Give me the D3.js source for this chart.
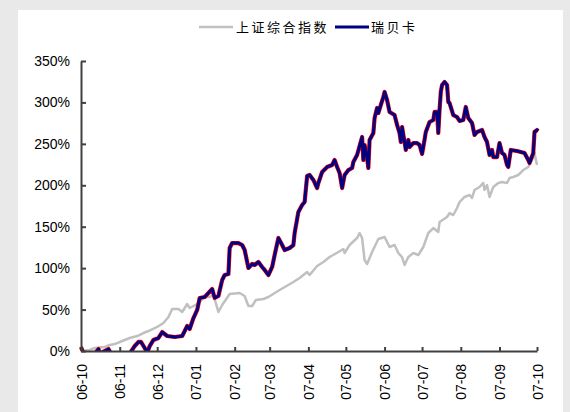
<!DOCTYPE html>
<html><head><meta charset="utf-8">
<script src="https://cdn.jsdelivr.net/npm/d3@7"></script>
<style>
html,body{margin:0;padding:0;background:#e9e9e9;}
svg{display:block;}
</style></head>
<body>
<svg id="chart" width="570" height="412"></svg>
<script>
// ---- data ----
const seriesNames = ["上证综合指数", "瑞贝卡"];
const xTickLabels = ["06-10","06-11","06-12","07-01","07-02","07-03","07-04","07-05","07-06","07-07","07-08","07-09","07-10"];
const yTickValues = [0,50,100,150,200,250,300,350];

const sseDates = ["2006-10-01","2006-10-08","2006-10-12","2006-10-20","2006-10-24","2006-10-28","2006-11-03","2006-11-09","2006-11-15","2006-11-20","2006-11-24","2006-12-01","2006-12-06","2006-12-10","2006-12-13","2006-12-18","2006-12-21","2006-12-25","2006-12-27","2006-12-30","2007-01-02","2007-01-08","2007-01-12","2007-01-15","2007-01-19","2007-01-22","2007-01-28","2007-02-05","2007-02-09","2007-02-12","2007-02-15","2007-02-18","2007-02-24","2007-02-28","2007-03-09","2007-03-20","2007-03-25","2007-03-31","2007-04-02","2007-04-08","2007-04-13","2007-04-18","2007-04-25","2007-04-29","2007-04-30","2007-05-04","2007-05-10","2007-05-12","2007-05-14","2007-05-16","2007-05-18","2007-05-22","2007-05-27","2007-06-01","2007-06-05","2007-06-09","2007-06-12","2007-06-15","2007-06-17","2007-06-20","2007-06-24","2007-06-28","2007-07-02","2007-07-06","2007-07-10","2007-07-14","2007-07-15","2007-07-21","2007-07-23","2007-07-26","2007-07-29","2007-07-31","2007-08-04","2007-08-08","2007-08-10","2007-08-12","2007-08-16","2007-08-19","2007-08-20","2007-08-22","2007-08-24","2007-08-27","2007-08-31","2007-09-03","2007-09-07","2007-09-09","2007-09-12","2007-09-16","2007-09-20","2007-09-24","2007-09-27","2007-09-29","2007-10-01"];
const sseValues = [0,1.2,3.6,4.8,7.2,8.4,12.1,15.7,18.1,21.7,24.1,29.0,33.8,41.0,50.7,50.7,47.1,56.7,51.9,54.3,56.7,65.2,65.2,67.6,47.1,55.5,68.8,70.0,66.4,54.3,54.3,61.6,62.8,65.2,73.6,83.3,88.1,95.3,91.7,102.6,107.4,113.4,119.5,123.1,118.3,127.9,136.4,142.4,136.4,109.8,105.0,119.5,135.2,137.6,125.5,127.9,118.3,113.4,103.8,113.4,118.3,115.9,125.5,142.4,148.4,143.6,155.7,161.7,166.5,164.1,172.6,179.8,185.9,188.3,184.7,194.3,197.9,202.8,194.3,200.3,185.9,197.9,202.8,204.0,202.8,208.8,210.0,212.4,218.4,222.1,230.5,239.0,224.5];

const rbkDates = ["2006-10-01","2006-10-03","2006-10-12","2006-10-15","2006-10-16","2006-10-23","2006-10-25","2006-11-09","2006-11-13","2006-11-16","2006-11-18","2006-11-21","2006-11-23","2006-11-25","2006-11-28","2006-12-02","2006-12-05","2006-12-09","2006-12-15","2006-12-21","2006-12-25","2006-12-27","2006-12-30","2007-01-02","2007-01-04","2007-01-08","2007-01-11","2007-01-14","2007-01-16","2007-01-19","2007-01-22","2007-01-24","2007-01-27","2007-01-28","2007-01-30","2007-02-04","2007-02-07","2007-02-09","2007-02-11","2007-02-12","2007-02-15","2007-02-17","2007-02-20","2007-02-23","2007-02-25","2007-02-28","2007-03-03","2007-03-05","2007-03-08","2007-03-11","2007-03-13","2007-03-17","2007-03-20","2007-03-21","2007-03-24","2007-03-27","2007-03-29","2007-03-31","2007-04-02","2007-04-05","2007-04-08","2007-04-09","2007-04-12","2007-04-16","2007-04-20","2007-04-22","2007-04-24","2007-04-26","2007-04-28","2007-04-30","2007-05-03","2007-05-06","2007-05-07","2007-05-10","2007-05-12","2007-05-14","2007-05-15","2007-05-16","2007-05-18","2007-05-19","2007-05-20","2007-05-23","2007-05-24","2007-05-26","2007-05-27","2007-05-29","2007-05-31","2007-06-01","2007-06-03","2007-06-05","2007-06-09","2007-06-11","2007-06-13","2007-06-14","2007-06-15","2007-06-17","2007-06-18","2007-06-20","2007-06-21","2007-06-24","2007-06-27","2007-06-29","2007-07-01","2007-07-02","2007-07-04","2007-07-07","2007-07-10","2007-07-11","2007-07-13","2007-07-14","2007-07-15","2007-07-16","2007-07-17","2007-07-19","2007-07-21","2007-07-22","2007-07-23","2007-07-26","2007-07-29","2007-07-31","2007-08-03","2007-08-05","2007-08-07","2007-08-10","2007-08-12","2007-08-14","2007-08-18","2007-08-20","2007-08-22","2007-08-24","2007-08-26","2007-08-27","2007-08-30","2007-09-01","2007-09-03","2007-09-05","2007-09-07","2007-09-08","2007-09-10","2007-09-15","2007-09-21","2007-09-24","2007-09-25","2007-09-28","2007-09-29","2007-10-01","2007-10-02"];
const rbkValues = [4.8,-3,-3,2.4,-3,2.4,-3,-3,6.0,10.9,10.9,3.6,-2,6.0,13.3,15.7,22.9,18.1,16.9,18.1,30.2,26.6,39.8,49.5,64.0,65.2,70.0,74.8,64.0,66.4,85.7,91.7,92.9,124.3,130.3,130.3,127.9,121.9,107.4,100.2,105.0,103.8,107.4,101.4,97.8,91.7,101.4,115.9,136.4,127.9,121.9,124.3,127.9,142.4,167.8,176.2,179.8,211.2,212.4,206.4,196.7,202.8,216.0,222.1,224.5,230.5,222.1,214.8,196.7,212.4,218.4,220.9,228.1,236.6,247.4,258.3,230.5,248.6,232.9,220.9,254.7,263.1,281.2,293.3,287.2,296.9,306.5,312.6,302.9,288.5,284.8,272.8,263.1,252.2,270.3,252.2,242.6,254.7,246.2,251.0,251.0,248.6,237.8,246.2,264.3,276.4,278.8,288.5,288.5,263.1,290.9,312.6,321.0,324.7,321.0,300.5,299.3,284.8,282.4,277.6,278.8,294.5,281.2,275.2,260.7,264.3,266.7,258.3,252.2,236.6,242.6,234.1,234.1,251.0,239.0,236.6,224.5,222.1,242.6,241.4,239.0,230.5,226.9,239.0,264.3,266.7,265.5];

// ---- drawing ----
const svg = d3.select("#chart");
const parse = d3.utcParse("%Y-%m-%d");
const sse = sseDates.map((d,i)=>({date:parse(d), v:sseValues[i]}));
const rbk = rbkDates.map((d,i)=>({date:parse(d), v:rbkValues[i]}));

svg.append("rect").attr("x",18).attr("y",10).attr("width",545).attr("height",402).attr("fill","#fff");

const x = d3.scaleUtc().domain([parse("2006-10-01"), parse("2007-10-01")]).range([81,537]);
const y = d3.scaleLinear().domain([0,350]).range([351,61]);

svg.append("clipPath").attr("id","clip").append("rect")
  .attr("x",70).attr("y",40).attr("width",490).attr("height",311);

const line = d3.line().x(d=>x(d.date)).y(d=>y(d.v));
const g = svg.append("g").attr("clip-path","url(#clip)");
g.append("path").datum(sse).attr("d",line).attr("fill","none")
  .attr("stroke","#c0c0c0").attr("stroke-width",2.5).attr("stroke-linejoin","round");
g.append("path").datum(rbk).attr("d",line).attr("fill","none")
  .attr("stroke","#ff0000").attr("stroke-width",4.2).attr("stroke-linejoin","round");
g.append("path").datum(rbk).attr("d",line).attr("fill","none")
  .attr("stroke","#000080").attr("stroke-width",3).attr("stroke-linejoin","round");

// axes
const monthTicks = d3.utcMonth.range(parse("2006-10-01"), d3.utcDay.offset(parse("2007-10-01"),1));
const xAxis = d3.axisBottom(x).tickValues(monthTicks).tickSize(-4).tickSizeOuter(0)
  .tickFormat((d,i)=>xTickLabels[i]);
const gx = svg.append("g").attr("transform","translate(0,351)").call(xAxis);
gx.select(".domain").attr("stroke","#404040").attr("stroke-width",2);
gx.selectAll(".tick line").attr("stroke","#404040").attr("stroke-width",2);
gx.selectAll(".tick text")
  .attr("font-family","'Liberation Sans', Arial, sans-serif").attr("font-size",14).attr("fill","#000")
  .attr("transform","rotate(-90)").attr("text-anchor","end")
  .attr("x",-13).attr("y",0).attr("dy","0.36em");

const yAxis = d3.axisLeft(y).tickValues(yTickValues).tickSize(-5).tickSizeOuter(0)
  .tickFormat(d=>d+"%");
const gy = svg.append("g").attr("transform","translate(81,0)").call(yAxis);
gy.select(".domain").attr("stroke","#404040").attr("stroke-width",2);
gy.selectAll(".tick line").attr("stroke","#404040").attr("stroke-width",2);
gy.selectAll(".tick text")
  .attr("font-family","'Liberation Sans', Arial, sans-serif").attr("font-size",14).attr("fill","#000")
  .attr("x",-11);

// legend
const legend = svg.append("g");
const legendItems = [
  {name: seriesNames[0], color:"#c0c0c0", x1:199, x2:233, tx:236, w:2.5},
  {name: seriesNames[1], color:"#000080", x1:335, x2:369, tx:371, w:3}
];
legendItems.forEach(it=>{
  legend.append("line").attr("x1",it.x1).attr("x2",it.x2).attr("y1",27).attr("y2",27)
    .attr("stroke",it.color).attr("stroke-width",it.w);
  legend.append("text").attr("x",it.tx).attr("y",27).attr("dy","0.35em")
    .attr("font-family","'Noto Sans CJK SC', sans-serif").attr("font-weight",400)
    .attr("font-size",13).attr("letter-spacing","2.5px").attr("fill","#000").text(it.name);
});
</script>
</body></html>
